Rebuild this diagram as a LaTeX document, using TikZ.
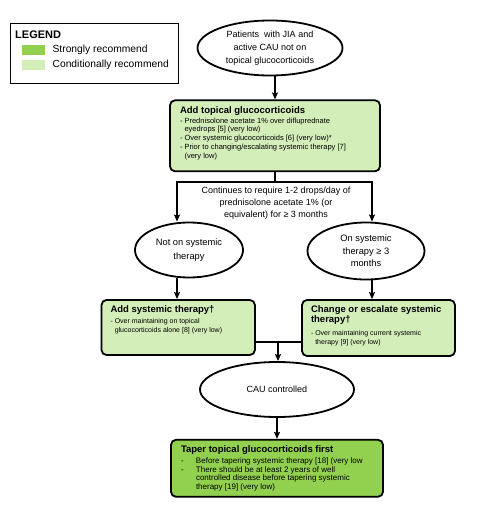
\documentclass[tikz,border=0pt]{standalone}
\usepackage{fontspec}
\setmainfont{Liberation Sans}
\usepackage{xcolor}
\usetikzlibrary{arrows.meta,positioning,shapes.geometric}
\definecolor{strong}{RGB}{146,208,80}
\definecolor{condl}{RGB}{212,238,186}
\newcommand{\hd}[1]{{\fontsize{9.5}{10}\selectfont\bfseries #1\par}\vspace{1pt}}
\newcommand{\boxtxt}[3]{\parbox[c][#1][t]{#2}{\raggedright\lineskiplimit=-10pt\lineskip=0pt #3}}
\newcommand{\ind}{\hspace*{0.61em}}
\newcommand{\dsh}{\makebox[15pt][l]{-}}

\begin{document}
\begin{tikzpicture}[
  x=1pt,y=1pt,
  font=\fontsize{9}{13}\selectfont,
  oval/.style={ellipse,draw=black,line width=1.8pt,align=center,inner sep=0pt},
  rec/.style={rounded corners=5pt,draw=black,line width=1.8pt,inner xsep=9pt,inner ysep=5.5pt},
  condbox/.style={rec,fill=condl},
  strongbox/.style={rec,fill=strong},
  swatch/.style={minimum width=23pt,minimum height=10.5pt,inner sep=0pt},
  lgtext/.style={inner sep=0pt,anchor=west,font=\fontsize{10.3}{12}\selectfont},
  conn/.style={line width=1.6pt},
  >={Stealth[length=7pt,width=6pt,inset=1.2pt]}
]
\useasboundingbox (0,0) rectangle (489,-508);
% legend
\node[draw=black,line width=1.2pt,minimum width=168pt,minimum height=60pt,inner sep=0pt,anchor=north west] (legend) at (10,-23) {};
\node[inner sep=0pt,anchor=west,font=\fontsize{11}{12}\selectfont\bfseries] (lgtitle) at (15,-35) {LEGEND};
\node[swatch,fill=strong,anchor=west] (swstrong) at (22,-50) {};
\node[swatch,fill=condl] (swcond) [below=4pt of swstrong] {};
\node[lgtext] (lgstrong) [right=7pt of swstrong] {Strongly recommend};
\node[lgtext] (lgcond) [right=7pt of swcond] {Conditionally recommend};
% start and topical step
\node[oval,minimum width=145pt,minimum height=55pt] (start) at (270,-48)
  {Patients~ with JIA and\\active CAU not on\\topical glucocorticoids};
\node[condbox,inner xsep=10pt,inner ysep=6pt] (tg) [below=23pt of start,xshift=5pt]
  {\boxtxt{59pt}{190pt}{\hd{Add topical glucocorticoids}%
   {\fontsize{7.5}{8.9}\selectfont - Prednisolone acetate 1\% over difluprednate\\\ind eyedrops [5] (very low)\\- Over systemic glucocorticoids [6] (very low)*\\- Prior to changing/escalating systemic therapy [7]\\\ind (very low)\par}}};
\node[inner sep=0pt,align=center,font=\fontsize{9}{11.7}\selectfont] (note) at (276,-203)
  {Continues to require 1-2 drops/day of\\prednisolone acetate 1\% (or\\equivalent) for ≥ 3 months};
% branches
\coordinate (splitL) at (177,-182);
\coordinate (splitR) at (372,-182);
\node[oval,minimum width=108pt,minimum height=55pt,font=\fontsize{9.3}{13.5}\selectfont] (nosys) at (189,-250) {Not on systemic\\therapy};
\node[oval,minimum width=117pt,minimum height=57pt,font=\fontsize{9.3}{12.5}\selectfont] (onsys) at (366,-251) {On systemic\\therapy ≥ 3\\months};
\node[condbox] (addsys) at (178.2,-327.5)
  {\boxtxt{44pt}{135.4pt}{\hd{Add systemic therapy†}%
   {\fontsize{7}{9.8}\selectfont - Over maintaining on topical\\\ind glucocorticoids alone [8] (very low)\par}}};
\node[condbox] (chsys) at (378.5,-328)
  {\boxtxt{45pt}{135pt}{\hd{Change or escalate systemic\\therapy†}\vspace{3pt}%
   {\fontsize{7}{9.2}\selectfont - Over maintaining current systemic\\\ind therapy [9] (very low)\par}}};
% controlled and taper
\coordinate (merge) at (278,-342);
\node[oval,minimum width=154pt,minimum height=55pt] (cau) at (277,-389.5) {CAU controlled};
\node[strongbox,inner xsep=10pt,inner ysep=5.5pt] (taper) [below=21pt of cau]
  {\boxtxt{46pt}{192pt}{\hd{Taper topical glucocorticoids first}\vspace{1.5pt}%
   {\fontsize{8}{8.7}\selectfont \dsh Before tapering systemic therapy [18] (very low\\\dsh There should be at least 2 years of well\\\hspace*{15pt}controlled disease before tapering systemic\\\hspace*{15pt}therapy [19] (very low)\par}}};
% arrows
\draw[conn,->] (tg.north |- start.south) -- (tg.north);
\draw[conn] (tg.south) -- (tg.south |- splitL);
\draw[conn,<->] (splitL |- nosys.north) -- (splitL) -- (splitR) -- (splitR |- onsys.north);
\draw[conn,->] (splitL |- nosys.south) -- (splitL |- addsys.north);
\draw[conn,->] (splitR |- onsys.south) -- (splitR |- chsys.north);
\draw[conn] (addsys.east |- merge) -- (chsys.west |- merge);
\draw[conn,->] (merge) -- (merge |- cau.north);
\draw[conn,->] (cau.south) -- (taper.north);
\end{tikzpicture}
\end{document}
